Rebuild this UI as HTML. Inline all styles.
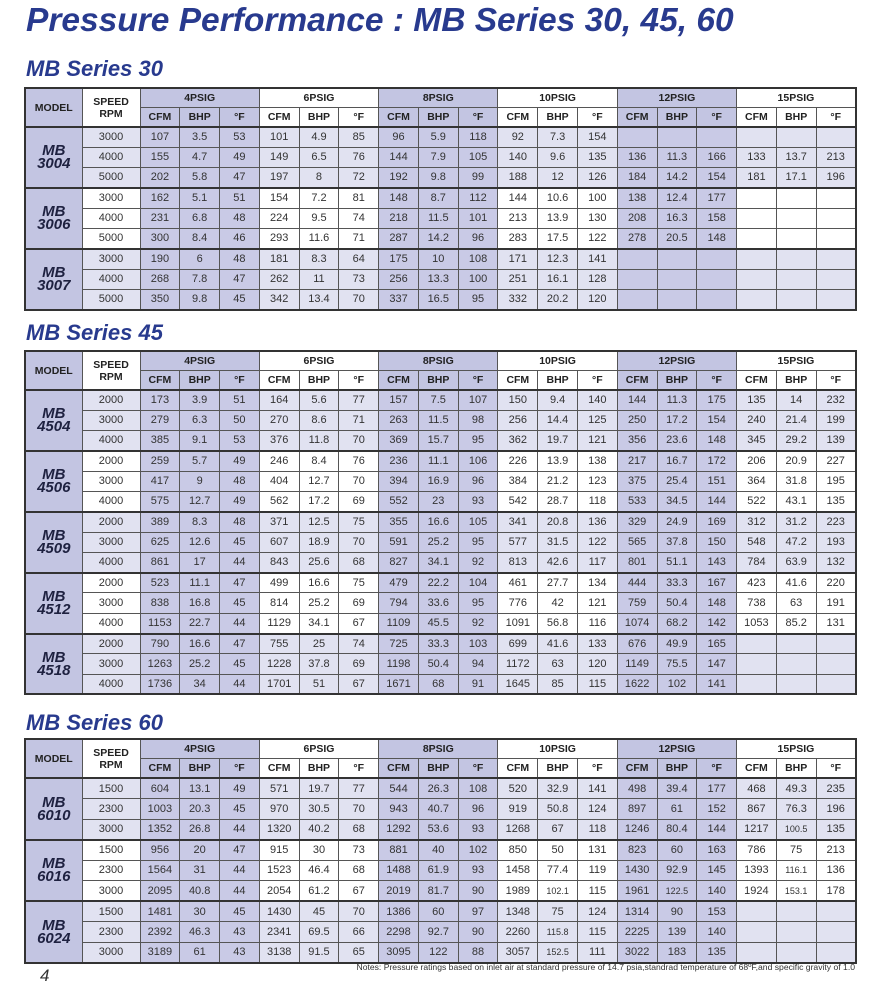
<!DOCTYPE html>
<html><head><meta charset="utf-8"><style>
body{margin:0;width:873px;height:991px;background:#fff;position:relative;overflow:hidden;font-family:"Liberation Sans",sans-serif;}
.t{position:absolute;left:26px;top:2px;font-size:33.5px;font-weight:bold;font-style:italic;color:#283a8e;white-space:nowrap;}
.s{position:absolute;left:26px;font-size:22px;font-weight:bold;font-style:italic;color:#283a8e;white-space:nowrap;}
table{position:absolute;left:24px;width:831px;border-collapse:collapse;table-layout:fixed;border:2px solid #333;}
td,th{border:1px solid #555;text-align:center;padding:0;font-size:11px;color:#333;overflow:hidden;white-space:nowrap;}
th{font-weight:bold;font-size:10.5px;color:#222;background:#fff;}
thead tr.h1 th:nth-child(1),thead tr.h1 th:nth-child(3),thead tr.h1 th:nth-child(5),thead tr.h1 th:nth-child(7){background:#c3c5e2;}
thead tr.h2 th:nth-child(6n+1),thead tr.h2 th:nth-child(6n+2),thead tr.h2 th:nth-child(6n+3){background:#c3c5e2;}
tbody{border-top:2px solid #333;}
tbody.b td{background:#e1e2f1;}
tr.f td:nth-child(6n+3),tr.f td:nth-child(6n+4),tr.f td:nth-child(6n+5),tr.o td:nth-child(6n+2),tr.o td:nth-child(6n+3),tr.o td:nth-child(6n+4){background:#c9cae6 !important;}
td.m{background:#c3c5e2 !important;font-weight:bold;font-style:italic;font-size:15px;line-height:13px;color:#1e2140;}
.a tbody tr{height:20.3px}.a thead tr{height:19.5px}
.c tbody tr{height:20.55px}
.n{position:absolute;right:18px;top:962px;font-size:8.6px;color:#333;}
.p{position:absolute;left:40px;top:966px;font-size:17px;font-style:italic;color:#333;}
</style></head><body>
<div class="t">Pressure Performance : MB Series 30, 45, 60</div>

<div class="s" style="top:56px">MB Series 30</div>
<table class="a" style="top:87px">
<colgroup><col style="width:57px"><col style="width:58px"><col span="18" style="width:39.77px"></colgroup>
<thead><tr class="h1"><th rowspan="2">MODEL</th><th rowspan="2">SPEED<br>RPM</th><th colspan="3">4PSIG</th><th colspan="3">6PSIG</th><th colspan="3">8PSIG</th><th colspan="3">10PSIG</th><th colspan="3">12PSIG</th><th colspan="3">15PSIG</th></tr>
<tr class="h2"><th>CFM</th><th>BHP</th><th>°F</th><th>CFM</th><th>BHP</th><th>°F</th><th>CFM</th><th>BHP</th><th>°F</th><th>CFM</th><th>BHP</th><th>°F</th><th>CFM</th><th>BHP</th><th>°F</th><th>CFM</th><th>BHP</th><th>°F</th></tr></thead>
<tbody class="b">
<tr class="f"><td class="m" rowspan="3">MB<br>3004</td><td>3000</td><td>107</td><td>3.5</td><td>53</td><td>101</td><td>4.9</td><td>85</td><td>96</td><td>5.9</td><td>118</td><td>92</td><td>7.3</td><td>154</td><td></td><td></td><td></td><td></td><td></td><td></td></tr>
<tr class="o"><td>4000</td><td>155</td><td>4.7</td><td>49</td><td>149</td><td>6.5</td><td>76</td><td>144</td><td>7.9</td><td>105</td><td>140</td><td>9.6</td><td>135</td><td>136</td><td>11.3</td><td>166</td><td>133</td><td>13.7</td><td>213</td></tr>
<tr class="o"><td>5000</td><td>202</td><td>5.8</td><td>47</td><td>197</td><td>8</td><td>72</td><td>192</td><td>9.8</td><td>99</td><td>188</td><td>12</td><td>126</td><td>184</td><td>14.2</td><td>154</td><td>181</td><td>17.1</td><td>196</td></tr></tbody>
<tbody>
<tr class="f"><td class="m" rowspan="3">MB<br>3006</td><td>3000</td><td>162</td><td>5.1</td><td>51</td><td>154</td><td>7.2</td><td>81</td><td>148</td><td>8.7</td><td>112</td><td>144</td><td>10.6</td><td>100</td><td>138</td><td>12.4</td><td>177</td><td></td><td></td><td></td></tr>
<tr class="o"><td>4000</td><td>231</td><td>6.8</td><td>48</td><td>224</td><td>9.5</td><td>74</td><td>218</td><td>11.5</td><td>101</td><td>213</td><td>13.9</td><td>130</td><td>208</td><td>16.3</td><td>158</td><td></td><td></td><td></td></tr>
<tr class="o"><td>5000</td><td>300</td><td>8.4</td><td>46</td><td>293</td><td>11.6</td><td>71</td><td>287</td><td>14.2</td><td>96</td><td>283</td><td>17.5</td><td>122</td><td>278</td><td>20.5</td><td>148</td><td></td><td></td><td></td></tr></tbody>
<tbody class="b">
<tr class="f"><td class="m" rowspan="3">MB<br>3007</td><td>3000</td><td>190</td><td>6</td><td>48</td><td>181</td><td>8.3</td><td>64</td><td>175</td><td>10</td><td>108</td><td>171</td><td>12.3</td><td>141</td><td></td><td></td><td></td><td></td><td></td><td></td></tr>
<tr class="o"><td>4000</td><td>268</td><td>7.8</td><td>47</td><td>262</td><td>11</td><td>73</td><td>256</td><td>13.3</td><td>100</td><td>251</td><td>16.1</td><td>128</td><td></td><td></td><td></td><td></td><td></td><td></td></tr>
<tr class="o"><td>5000</td><td>350</td><td>9.8</td><td>45</td><td>342</td><td>13.4</td><td>70</td><td>337</td><td>16.5</td><td>95</td><td>332</td><td>20.2</td><td>120</td><td></td><td></td><td></td><td></td><td></td><td></td></tr></tbody>
</table>

<div class="s" style="top:320px">MB Series 45</div>
<table class="a" style="top:350px">
<colgroup><col style="width:57px"><col style="width:58px"><col span="18" style="width:39.77px"></colgroup>
<thead><tr class="h1"><th rowspan="2">MODEL</th><th rowspan="2">SPEED<br>RPM</th><th colspan="3">4PSIG</th><th colspan="3">6PSIG</th><th colspan="3">8PSIG</th><th colspan="3">10PSIG</th><th colspan="3">12PSIG</th><th colspan="3">15PSIG</th></tr>
<tr class="h2"><th>CFM</th><th>BHP</th><th>°F</th><th>CFM</th><th>BHP</th><th>°F</th><th>CFM</th><th>BHP</th><th>°F</th><th>CFM</th><th>BHP</th><th>°F</th><th>CFM</th><th>BHP</th><th>°F</th><th>CFM</th><th>BHP</th><th>°F</th></tr></thead>
<tbody class="b">
<tr class="f"><td class="m" rowspan="3">MB<br>4504</td><td>2000</td><td>173</td><td>3.9</td><td>51</td><td>164</td><td>5.6</td><td>77</td><td>157</td><td>7.5</td><td>107</td><td>150</td><td>9.4</td><td>140</td><td>144</td><td>11.3</td><td>175</td><td>135</td><td>14</td><td>232</td></tr>
<tr class="o"><td>3000</td><td>279</td><td>6.3</td><td>50</td><td>270</td><td>8.6</td><td>71</td><td>263</td><td>11.5</td><td>98</td><td>256</td><td>14.4</td><td>125</td><td>250</td><td>17.2</td><td>154</td><td>240</td><td>21.4</td><td>199</td></tr>
<tr class="o"><td>4000</td><td>385</td><td>9.1</td><td>53</td><td>376</td><td>11.8</td><td>70</td><td>369</td><td>15.7</td><td>95</td><td>362</td><td>19.7</td><td>121</td><td>356</td><td>23.6</td><td>148</td><td>345</td><td>29.2</td><td>139</td></tr></tbody>
<tbody>
<tr class="f"><td class="m" rowspan="3">MB<br>4506</td><td>2000</td><td>259</td><td>5.7</td><td>49</td><td>246</td><td>8.4</td><td>76</td><td>236</td><td>11.1</td><td>106</td><td>226</td><td>13.9</td><td>138</td><td>217</td><td>16.7</td><td>172</td><td>206</td><td>20.9</td><td>227</td></tr>
<tr class="o"><td>3000</td><td>417</td><td>9</td><td>48</td><td>404</td><td>12.7</td><td>70</td><td>394</td><td>16.9</td><td>96</td><td>384</td><td>21.2</td><td>123</td><td>375</td><td>25.4</td><td>151</td><td>364</td><td>31.8</td><td>195</td></tr>
<tr class="o"><td>4000</td><td>575</td><td>12.7</td><td>49</td><td>562</td><td>17.2</td><td>69</td><td>552</td><td>23</td><td>93</td><td>542</td><td>28.7</td><td>118</td><td>533</td><td>34.5</td><td>144</td><td>522</td><td>43.1</td><td>135</td></tr></tbody>
<tbody class="b">
<tr class="f"><td class="m" rowspan="3">MB<br>4509</td><td>2000</td><td>389</td><td>8.3</td><td>48</td><td>371</td><td>12.5</td><td>75</td><td>355</td><td>16.6</td><td>105</td><td>341</td><td>20.8</td><td>136</td><td>329</td><td>24.9</td><td>169</td><td>312</td><td>31.2</td><td>223</td></tr>
<tr class="o"><td>3000</td><td>625</td><td>12.6</td><td>45</td><td>607</td><td>18.9</td><td>70</td><td>591</td><td>25.2</td><td>95</td><td>577</td><td>31.5</td><td>122</td><td>565</td><td>37.8</td><td>150</td><td>548</td><td>47.2</td><td>193</td></tr>
<tr class="o"><td>4000</td><td>861</td><td>17</td><td>44</td><td>843</td><td>25.6</td><td>68</td><td>827</td><td>34.1</td><td>92</td><td>813</td><td>42.6</td><td>117</td><td>801</td><td>51.1</td><td>143</td><td>784</td><td>63.9</td><td>132</td></tr></tbody>
<tbody>
<tr class="f"><td class="m" rowspan="3">MB<br>4512</td><td>2000</td><td>523</td><td>11.1</td><td>47</td><td>499</td><td>16.6</td><td>75</td><td>479</td><td>22.2</td><td>104</td><td>461</td><td>27.7</td><td>134</td><td>444</td><td>33.3</td><td>167</td><td>423</td><td>41.6</td><td>220</td></tr>
<tr class="o"><td>3000</td><td>838</td><td>16.8</td><td>45</td><td>814</td><td>25.2</td><td>69</td><td>794</td><td>33.6</td><td>95</td><td>776</td><td>42</td><td>121</td><td>759</td><td>50.4</td><td>148</td><td>738</td><td>63</td><td>191</td></tr>
<tr class="o"><td>4000</td><td>1153</td><td>22.7</td><td>44</td><td>1129</td><td>34.1</td><td>67</td><td>1109</td><td>45.5</td><td>92</td><td>1091</td><td>56.8</td><td>116</td><td>1074</td><td>68.2</td><td>142</td><td>1053</td><td>85.2</td><td>131</td></tr></tbody>
<tbody class="b">
<tr class="f"><td class="m" rowspan="3">MB<br>4518</td><td>2000</td><td>790</td><td>16.6</td><td>47</td><td>755</td><td>25</td><td>74</td><td>725</td><td>33.3</td><td>103</td><td>699</td><td>41.6</td><td>133</td><td>676</td><td>49.9</td><td>165</td><td></td><td></td><td></td></tr>
<tr class="o"><td>3000</td><td>1263</td><td>25.2</td><td>45</td><td>1228</td><td>37.8</td><td>69</td><td>1198</td><td>50.4</td><td>94</td><td>1172</td><td>63</td><td>120</td><td>1149</td><td>75.5</td><td>147</td><td></td><td></td><td></td></tr>
<tr class="o"><td>4000</td><td>1736</td><td>34</td><td>44</td><td>1701</td><td>51</td><td>67</td><td>1671</td><td>68</td><td>91</td><td>1645</td><td>85</td><td>115</td><td>1622</td><td>102</td><td>141</td><td></td><td></td><td></td></tr></tbody>
</table>

<div class="s" style="top:710px">MB Series 60</div>
<table class="a c" style="top:738px">
<colgroup><col style="width:57px"><col style="width:58px"><col span="18" style="width:39.77px"></colgroup>
<thead><tr class="h1"><th rowspan="2">MODEL</th><th rowspan="2">SPEED<br>RPM</th><th colspan="3">4PSIG</th><th colspan="3">6PSIG</th><th colspan="3">8PSIG</th><th colspan="3">10PSIG</th><th colspan="3">12PSIG</th><th colspan="3">15PSIG</th></tr>
<tr class="h2"><th>CFM</th><th>BHP</th><th>°F</th><th>CFM</th><th>BHP</th><th>°F</th><th>CFM</th><th>BHP</th><th>°F</th><th>CFM</th><th>BHP</th><th>°F</th><th>CFM</th><th>BHP</th><th>°F</th><th>CFM</th><th>BHP</th><th>°F</th></tr></thead>
<tbody class="b">
<tr class="f"><td class="m" rowspan="3">MB<br>6010</td><td>1500</td><td>604</td><td>13.1</td><td>49</td><td>571</td><td>19.7</td><td>77</td><td>544</td><td>26.3</td><td>108</td><td>520</td><td>32.9</td><td>141</td><td>498</td><td>39.4</td><td>177</td><td>468</td><td>49.3</td><td>235</td></tr>
<tr class="o"><td>2300</td><td>1003</td><td>20.3</td><td>45</td><td>970</td><td>30.5</td><td>70</td><td>943</td><td>40.7</td><td>96</td><td>919</td><td>50.8</td><td>124</td><td>897</td><td>61</td><td>152</td><td>867</td><td>76.3</td><td>196</td></tr>
<tr class="o"><td>3000</td><td>1352</td><td>26.8</td><td>44</td><td>1320</td><td>40.2</td><td>68</td><td>1292</td><td>53.6</td><td>93</td><td>1268</td><td>67</td><td>118</td><td>1246</td><td>80.4</td><td>144</td><td>1217</td><td style="font-size:9px">100.5</td><td>135</td></tr></tbody>
<tbody>
<tr class="f"><td class="m" rowspan="3">MB<br>6016</td><td>1500</td><td>956</td><td>20</td><td>47</td><td>915</td><td>30</td><td>73</td><td>881</td><td>40</td><td>102</td><td>850</td><td>50</td><td>131</td><td>823</td><td>60</td><td>163</td><td>786</td><td>75</td><td>213</td></tr>
<tr class="o"><td>2300</td><td>1564</td><td>31</td><td>44</td><td>1523</td><td>46.4</td><td>68</td><td>1488</td><td>61.9</td><td>93</td><td>1458</td><td>77.4</td><td>119</td><td>1430</td><td>92.9</td><td>145</td><td>1393</td><td style="font-size:9px">116.1</td><td>136</td></tr>
<tr class="o"><td>3000</td><td>2095</td><td>40.8</td><td>44</td><td>2054</td><td>61.2</td><td>67</td><td>2019</td><td>81.7</td><td>90</td><td>1989</td><td style="font-size:9px">102.1</td><td>115</td><td>1961</td><td style="font-size:9px">122.5</td><td>140</td><td>1924</td><td style="font-size:9px">153.1</td><td>178</td></tr></tbody>
<tbody class="b">
<tr class="f"><td class="m" rowspan="3">MB<br>6024</td><td>1500</td><td>1481</td><td>30</td><td>45</td><td>1430</td><td>45</td><td>70</td><td>1386</td><td>60</td><td>97</td><td>1348</td><td>75</td><td>124</td><td>1314</td><td>90</td><td>153</td><td></td><td></td><td></td></tr>
<tr class="o"><td>2300</td><td>2392</td><td>46.3</td><td>43</td><td>2341</td><td>69.5</td><td>66</td><td>2298</td><td>92.7</td><td>90</td><td>2260</td><td style="font-size:9px">115.8</td><td>115</td><td>2225</td><td>139</td><td>140</td><td></td><td></td><td></td></tr>
<tr class="o"><td>3000</td><td>3189</td><td>61</td><td>43</td><td>3138</td><td>91.5</td><td>65</td><td>3095</td><td>122</td><td>88</td><td>3057</td><td style="font-size:9px">152.5</td><td>111</td><td>3022</td><td>183</td><td>135</td><td></td><td></td><td></td></tr></tbody>
</table>

<div class="p">4</div>
<div class="n">Notes: Pressure ratings based on inlet air at standard pressure of 14.7 psia,standrad temperature of 68ºF,and specific gravity of 1.0</div>
</body></html>
